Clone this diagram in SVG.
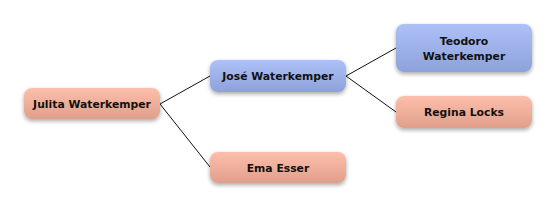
<svg xmlns="http://www.w3.org/2000/svg" width="556" height="208" viewBox="0 0 556 208">
<defs>
<linearGradient id="salmon" x1="0" y1="0" x2="0" y2="1">
<stop offset="0" stop-color="#fcbfab"/>
<stop offset="1" stop-color="#e09f8b"/>
</linearGradient>
<linearGradient id="blue" x1="0" y1="0" x2="0" y2="1">
<stop offset="0" stop-color="#adc1f8"/>
<stop offset="1" stop-color="#8ea2da"/>
</linearGradient>
<filter id="shadow" x="-20%" y="-30%" width="140%" height="170%">
<feGaussianBlur in="SourceAlpha" stdDeviation="2"/>
<feOffset dx="0" dy="2" result="b"/>
<feComponentTransfer><feFuncA type="linear" slope="0.35"/></feComponentTransfer>
<feMerge><feMergeNode/><feMergeNode in="SourceGraphic"/></feMerge>
</filter>
</defs>
<style>
.node rect{filter:url(#shadow);}
.s rect{fill:url(#salmon);}
.b rect{fill:url(#blue);}
text{font-family:"DejaVu Sans","Liberation Sans",sans-serif;font-weight:bold;font-size:10.8px;fill:#111;text-anchor:middle;}
.edges line{stroke:#111;stroke-width:1;}
</style>
<rect width="556" height="208" fill="#ffffff"/>
<g class="edges">
<line x1="160" y1="104" x2="210" y2="76"/>
<line x1="160" y1="104" x2="210" y2="167"/>
<line x1="346" y1="76" x2="396" y2="48"/>
<line x1="346" y1="76" x2="396" y2="112"/>
</g>
<g id="julita" class="node s"><rect x="24" y="88" width="136" height="31" rx="8"/><text x="92" y="108">Julita Waterkemper</text></g>
<g id="jose" class="node b"><rect x="210" y="60" width="136" height="32" rx="8"/><text x="278" y="80">José Waterkemper</text></g>
<g id="teodoro" class="node b"><rect x="396" y="24" width="136" height="48" rx="8"/><text x="464" y="45">Teodoro</text><text x="464" y="60">Waterkemper</text></g>
<g id="regina" class="node s"><rect x="396" y="96" width="136" height="32" rx="8"/><text x="464" y="116">Regina Locks</text></g>
<g id="ema" class="node s"><rect x="210" y="152" width="136" height="31" rx="8"/><text x="278" y="172">Ema Esser</text></g>
</svg>
